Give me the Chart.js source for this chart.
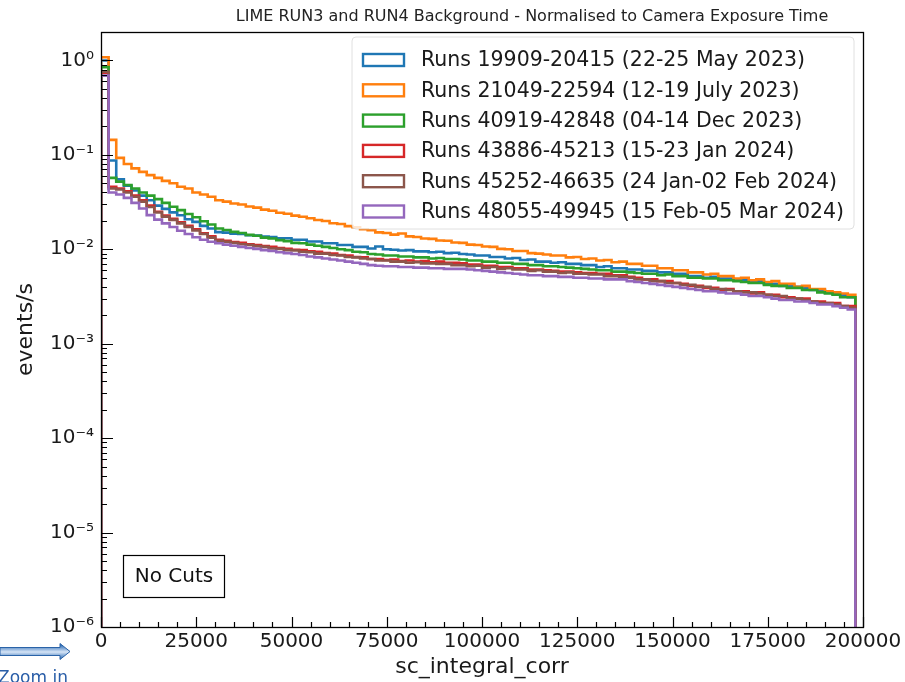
<!DOCTYPE html>
<html>
<head>
<meta charset="utf-8">
<title>LIME RUN3 and RUN4 Background</title>
<script src="https://cdn.jsdelivr.net/npm/chart.js@4.4.1/dist/chart.umd.min.js"></script>
<style>
  html, body { margin: 0; padding: 0; background: #fff; }
  #wrap { width: 905px; height: 682px; position: relative; }
</style>
</head>
<body>
<div id="wrap"><canvas id="chart" width="905" height="682"></canvas></div>
<script>
// Histogram settings (bin width in sc_integral_corr units)
const BIN_W = 2000;
const FLOOR = 1e-9;   // value used to drop the step outline to the bottom

const seriesLabels = [
  'Runs 19909-20415 (22-25 May 2023)',
  'Runs 21049-22594 (12-19 July 2023)',
  'Runs 40919-42848 (04-14 Dec 2023)',
  'Runs 43886-45213 (15-23 Jan 2024)',
  'Runs 45252-46635 (24 Jan-02 Feb 2024)',
  'Runs 48055-49945 (15 Feb-05 Mar 2024)'
];
const seriesColors = ['#1f77b4', '#ff7f0e', '#2ca02c', '#d62728', '#8c564b', '#9467bd'];

const xTicks = [0, 25000, 50000, 75000, 100000, 125000, 150000, 175000, 200000];
const yTicks = [1e-6, 1e-5, 1e-4, 1e-3, 1e-2, 1e-1, 1e0];
const yTickLabels = ['10\u207B\u2076', '10\u207B\u2075', '10\u207B\u2074', '10\u207B\u00B3', '10\u207B\u00B2', '10\u207B\u00B9', '10\u2070'];

// events/s per bin
const may2023 = [
  1.00, 0.087, 0.055, 0.047, 0.042, 0.037, 0.033, 0.029, 0.0268, 0.0246,
  0.0229, 0.0208, 0.0195, 0.0177, 0.0166, 0.0152, 0.0150, 0.0146, 0.0145, 0.0141,
  0.0140, 0.0136, 0.0135, 0.0131, 0.0131, 0.0126, 0.0126, 0.0121, 0.0121, 0.0116,
  0.0116, 0.0111, 0.0111, 0.0106, 0.0106, 0.0102, 0.0107, 0.0100, 0.0099, 0.0097,
  0.0098, 0.0095, 0.0095, 0.0093, 0.0094, 0.0091, 0.0092, 0.0089, 0.0088, 0.0086,
  0.0086, 0.0083, 0.0083, 0.0080, 0.0081, 0.0077, 0.0078, 0.0074, 0.0074, 0.0072,
  0.0073, 0.0070, 0.0070, 0.0068, 0.0068, 0.0065, 0.0066, 0.0063, 0.0063, 0.0061,
  0.0061, 0.0059, 0.0059, 0.0057, 0.0057, 0.0055, 0.0055, 0.0052, 0.0052, 0.0050,
  0.0051, 0.0049, 0.0049, 0.0047, 0.0047, 0.0045, 0.0046, 0.0043, 0.0043, 0.0041,
  0.0041, 0.0040, 0.0039, 0.0037, 0.0037, 0.0035, 0.0034, 0.0033, 0.0031
];
const july2023 = [
  1.08, 0.144, 0.093, 0.080, 0.072, 0.066, 0.061, 0.057, 0.053, 0.050,
  0.046, 0.044, 0.040, 0.038, 0.036, 0.033, 0.0320, 0.0305, 0.0298, 0.0284,
  0.0276, 0.0263, 0.0256, 0.0244, 0.0238, 0.0227, 0.0221, 0.0213, 0.0204, 0.0199,
  0.0189, 0.0185, 0.0176, 0.0171, 0.0163, 0.0159, 0.0151, 0.0149, 0.0143, 0.0147,
  0.0137, 0.0135, 0.0130, 0.0129, 0.0124, 0.0123, 0.0118, 0.0117, 0.0112, 0.0111,
  0.0107, 0.0106, 0.0101, 0.0100, 0.0096, 0.0096, 0.0091, 0.0090, 0.0088, 0.0086,
  0.0086, 0.0082, 0.0083, 0.0079, 0.0080, 0.0076, 0.0077, 0.0073, 0.0074, 0.0070,
  0.0070, 0.0067, 0.0067, 0.0063, 0.0063, 0.0060, 0.0060, 0.0057, 0.0057, 0.0054,
  0.0055, 0.0052, 0.0052, 0.0049, 0.0050, 0.0047, 0.0048, 0.0045, 0.0046, 0.0043,
  0.0043, 0.0040, 0.0041, 0.0038, 0.0038, 0.0036, 0.0035, 0.0034, 0.0033
];
const dec2023 = [
  0.85, 0.057, 0.052, 0.048, 0.044, 0.040, 0.037, 0.034, 0.0310, 0.0282,
  0.0260, 0.0236, 0.0218, 0.0198, 0.0183, 0.0166, 0.0160, 0.0153, 0.0149, 0.0142,
  0.0139, 0.0133, 0.0130, 0.0125, 0.0122, 0.0117, 0.0116, 0.0112, 0.0109, 0.0106,
  0.0103, 0.0100, 0.0098, 0.0094, 0.0093, 0.0089, 0.0088, 0.0086, 0.0086, 0.0084,
  0.0084, 0.0082, 0.0082, 0.0080, 0.0081, 0.0079, 0.0079, 0.0078, 0.0076, 0.0076,
  0.0074, 0.0074, 0.0072, 0.0072, 0.0070, 0.0070, 0.0068, 0.0068, 0.0066, 0.0066,
  0.0065, 0.0064, 0.0063, 0.0062, 0.0061, 0.0060, 0.0060, 0.0058, 0.0058, 0.0057,
  0.0056, 0.0055, 0.0055, 0.0053, 0.0054, 0.0052, 0.0052, 0.0050, 0.0050, 0.0049,
  0.0049, 0.0047, 0.0047, 0.0046, 0.0045, 0.0044, 0.0044, 0.0042, 0.0041, 0.0041,
  0.0039, 0.0039, 0.0037, 0.0037, 0.0035, 0.0034, 0.0033, 0.0031, 0.0031
];
const jan2024 = [
  0.74, 0.046, 0.044, 0.041, 0.037, 0.033, 0.029, 0.025, 0.0228, 0.0210,
  0.0193, 0.0177, 0.0163, 0.0148, 0.0137, 0.0126, 0.0123, 0.0119, 0.0117, 0.0113,
  0.0111, 0.0108, 0.0106, 0.0103, 0.0101, 0.0099, 0.0098, 0.0095, 0.0094, 0.0091,
  0.0090, 0.0087, 0.0086, 0.0083, 0.0082, 0.0079, 0.0079, 0.0077, 0.0078, 0.0075,
  0.0076, 0.0074, 0.0075, 0.0073, 0.0074, 0.0072, 0.0072, 0.0071, 0.0069, 0.0069,
  0.0067, 0.0067, 0.0065, 0.0065, 0.0063, 0.0063, 0.0061, 0.0061, 0.0060, 0.0059,
  0.0058, 0.0058, 0.0057, 0.0056, 0.0056, 0.0055, 0.0055, 0.0053, 0.0053, 0.0051,
  0.0050, 0.0048, 0.0048, 0.0046, 0.0046, 0.0044, 0.0043, 0.0041, 0.0041, 0.0039,
  0.0039, 0.0037, 0.0038, 0.0036, 0.0036, 0.0034, 0.0035, 0.0033, 0.0033, 0.0031,
  0.0031, 0.0030, 0.0030, 0.0028, 0.0028, 0.0027, 0.0027, 0.0025, 0.0025
];
const janFeb2024 = [
  0.76, 0.044, 0.043, 0.040, 0.036, 0.032, 0.028, 0.0245, 0.0222, 0.0205,
  0.0188, 0.0172, 0.0158, 0.0145, 0.0133, 0.0123, 0.0120, 0.0117, 0.0113, 0.0111,
  0.0108, 0.0106, 0.0102, 0.0101, 0.0098, 0.0097, 0.0094, 0.0093, 0.0090, 0.0090,
  0.0087, 0.0086, 0.0083, 0.0082, 0.0080, 0.0079, 0.0076, 0.0076, 0.0074, 0.0074,
  0.0072, 0.0073, 0.0071, 0.0071, 0.0070, 0.0070, 0.0068, 0.0068, 0.0066, 0.0067,
  0.0064, 0.0065, 0.0062, 0.0063, 0.0061, 0.0061, 0.0059, 0.0060, 0.0058, 0.0058,
  0.0056, 0.0057, 0.0055, 0.0055, 0.0054, 0.0054, 0.0052, 0.0052, 0.0051, 0.0050,
  0.0048, 0.0048, 0.0046, 0.0046, 0.0044, 0.0044, 0.0042, 0.0042, 0.0040, 0.0040,
  0.0038, 0.0038, 0.0037, 0.0036, 0.0035, 0.0035, 0.0034, 0.0033, 0.0032, 0.0032,
  0.0030, 0.0030, 0.0029, 0.0028, 0.0027, 0.0027, 0.0026, 0.0025, 0.0024
];
const febMar2024 = [
  0.69, 0.040, 0.038, 0.035, 0.031, 0.027, 0.023, 0.0206, 0.0188, 0.0172,
  0.0157, 0.0145, 0.0134, 0.0126, 0.0120, 0.0116, 0.0112, 0.0109, 0.0106, 0.0103,
  0.0101, 0.0098, 0.0096, 0.0093, 0.0091, 0.0089, 0.0087, 0.0084, 0.0082, 0.0080,
  0.0078, 0.0076, 0.0074, 0.0072, 0.0070, 0.0068, 0.0067, 0.0066, 0.0066, 0.0065,
  0.0065, 0.0064, 0.0064, 0.0063, 0.0063, 0.0062, 0.0062, 0.0062, 0.0061, 0.0060,
  0.0059, 0.0058, 0.0057, 0.0056, 0.0055, 0.0054, 0.0053, 0.0053, 0.0052, 0.0052,
  0.0051, 0.0051, 0.0050, 0.0050, 0.0049, 0.0049, 0.0048, 0.0048, 0.0048, 0.0046,
  0.0045, 0.0044, 0.0043, 0.0042, 0.0041, 0.0040, 0.0039, 0.0038, 0.0037, 0.0036,
  0.0036, 0.0035, 0.0034, 0.0034, 0.0033, 0.0032, 0.0032, 0.0031, 0.0030, 0.0029,
  0.0029, 0.0028, 0.0028, 0.0027, 0.0026, 0.0026, 0.0025, 0.0024, 0.0023
];

const seriesValues = [may2023, july2023, dec2023, jan2024, janFeb2024, febMar2024];

// step outline like matplotlib histtype='step'
function histPoints(vals) {
  const pts = [{x: 0, y: FLOOR}];
  vals.forEach((v, i) => pts.push({x: i * BIN_W, y: v}));
  const end = vals.length * BIN_W;
  pts.push({x: end, y: vals[vals.length - 1]});
  pts.push({x: end, y: FLOOR});
  return pts;
}

const FONT = "'DejaVu Sans', 'Liberation Sans', sans-serif";

const datasets = seriesValues.map((vals, i) => ({
  label: seriesLabels[i],
  data: histPoints(vals),
  borderColor: seriesColors[i],
  borderWidth: 2.6,
  pointRadius: 0,
  fill: false,
  stepped: true,
  tension: 0,
  order: seriesValues.length - i
}));

// inward ticks, frame, legend, annotation box
const decorPlugin = {
  id: 'decor',
  afterDatasetsDraw(chart) {
    const {ctx, chartArea: a, scales: {x, y}} = chart;
    ctx.save();

    // legend
    const lx = 352, ly = 37, lw = 502, lh = 192;
    ctx.fillStyle = 'rgba(255,255,255,0.8)';
    ctx.strokeStyle = 'rgba(204,204,204,0.6)';
    ctx.lineWidth = 1;
    ctx.beginPath();
    ctx.roundRect(lx, ly, lw, lh, 4);
    ctx.fill();
    ctx.stroke();
    ctx.font = '20.5px ' + FONT;
    ctx.textBaseline = 'middle';
    ctx.textAlign = 'left';
    seriesLabels.forEach((lab, i) => {
      const cy = 60 + i * 30.3;
      ctx.strokeStyle = seriesColors[i];
      ctx.lineWidth = 2.4;
      ctx.strokeRect(363, cy - 6, 41, 12);
      ctx.fillStyle = '#1a1a1a';
      ctx.fillText(lab, 421, cy + 1);
    });

    // "No Cuts" box
    ctx.fillStyle = '#fff';
    ctx.fillRect(123, 555, 101, 42);
    ctx.strokeStyle = '#000';
    ctx.lineWidth = 1.2;
    ctx.strokeRect(123.5, 555.5, 101, 42);
    ctx.fillStyle = '#111';
    ctx.textAlign = 'center';
    ctx.font = '20px ' + FONT;
    ctx.fillText('No Cuts', 174, 577);

    // ticks pointing in
    ctx.strokeStyle = '#000';
    ctx.lineWidth = 1.2;
    ctx.beginPath();
    for (let v = 0; v <= 200000; v += 5000) {
      const px = Math.round(x.getPixelForValue(v)) + 0.5;
      const len = v % 25000 === 0 ? 10 : 5;
      ctx.moveTo(px, a.bottom);
      ctx.lineTo(px, a.bottom - len);
    }
    for (let e = -6; e <= 0; e++) {
      for (let m = 1; m <= 9; m++) {
        const v = m * Math.pow(10, e);
        if (v > y.max) continue;
        const py = Math.round(y.getPixelForValue(v)) + 0.5;
        const len = m === 1 ? 12 : 6;
        ctx.moveTo(a.left, py);
        ctx.lineTo(a.left + len, py);
      }
    }
    ctx.stroke();

    // frame
    ctx.lineWidth = 1.3;
    ctx.strokeRect(a.left + 0.5, a.top + 0.5, a.right - a.left, a.bottom - a.top);
    ctx.restore();
  },
  afterDraw(chart) {
    const {ctx} = chart;
    ctx.save();
    // title
    ctx.fillStyle = '#222';
    ctx.font = '16px ' + FONT;
    ctx.textAlign = 'center';
    ctx.textBaseline = 'middle';
    ctx.fillText('LIME RUN3 and RUN4 Background - Normalised to Camera Exposure Time', 532, 17);

    // "Zoom in" arrow from the slide
    const g = ctx.createLinearGradient(0, 645, 0, 659);
    g.addColorStop(0, '#2f6db5');
    g.addColorStop(0.5, '#d5e4f6');
    g.addColorStop(1, '#2f6db5');
    ctx.fillStyle = g;
    ctx.strokeStyle = '#2a63a8';
    ctx.lineWidth = 1;
    ctx.beginPath();
    ctx.moveTo(0, 647.5);
    ctx.lineTo(60, 647.5);
    ctx.lineTo(60, 643.5);
    ctx.lineTo(70, 651.5);
    ctx.lineTo(60, 659.5);
    ctx.lineTo(60, 655.5);
    ctx.lineTo(0, 655.5);
    ctx.closePath();
    ctx.fill();
    ctx.stroke();
    ctx.fillStyle = '#2a5ea8';
    ctx.font = '17px ' + FONT;
    ctx.textAlign = 'left';
    ctx.textBaseline = 'alphabetic';
    ctx.fillText('Zoom in', -2, 683);
    ctx.restore();
  }
};

new Chart(document.getElementById('chart'), {
  type: 'line',
  data: { datasets },
  options: {
    responsive: false,
    animation: false,
    devicePixelRatio: 1,
    layout: { padding: { left: 0, top: 32, right: 42, bottom: 0 } },
    plugins: {
      legend: { display: false },
      tooltip: { enabled: false },
      title: { display: false }
    },
    scales: {
      x: {
        type: 'linear',
        min: 0,
        max: 200000,
        afterFit: s => { s.height = 55; },
        afterBuildTicks: s => { s.ticks = xTicks.map(v => ({value: v})); },
        grid: { display: false, drawTicks: false },
        border: { display: false },
        ticks: {
          color: '#1a1a1a',
          font: { family: FONT, size: 20 },
          padding: 3,
          maxRotation: 0,
          autoSkip: false,
          callback: v => String(v)
        },
        title: {
          display: true,
          text: 'sc_integral_corr',
          color: '#1a1a1a',
          font: { family: FONT, size: 22 },
          padding: { top: 0, bottom: 2 }
        }
      },
      y: {
        type: 'logarithmic',
        min: 1e-6,
        max: 2,
        afterFit: s => { s.width = 101; },
        afterBuildTicks: s => { s.ticks = yTicks.map(v => ({value: v})); },
        grid: { display: false, drawTicks: false },
        border: { display: false },
        ticks: {
          color: '#1a1a1a',
          font: { family: FONT, size: 20 },
          padding: 7,
          autoSkip: false,
          callback: v => {
            const i = yTicks.findIndex(t => Math.abs(Math.log10(t) - Math.log10(v)) < 1e-6);
            return i >= 0 ? yTickLabels[i] : '';
          }
        },
        title: {
          display: true,
          text: 'events/s',
          color: '#1a1a1a',
          font: { family: FONT, size: 22 },
          padding: { top: 13, bottom: 0 }
        }
      }
    }
  },
  plugins: [decorPlugin]
});
</script>
</body>
</html>
